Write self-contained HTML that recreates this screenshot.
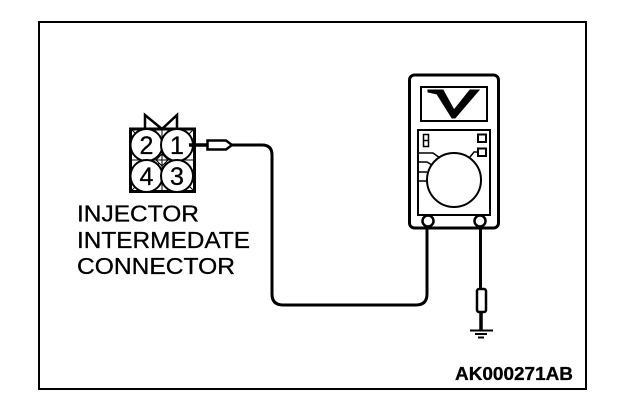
<!DOCTYPE html>
<html>
<head>
<meta charset="utf-8">
<style>
html,body{margin:0;padding:0;background:#fff;width:624px;height:404px;overflow:hidden}
svg{display:block}
text{font-family:"Liberation Sans",sans-serif;fill:#000}
</style>
</head>
<body>
<svg width="624" height="404" viewBox="0 0 624 404" xmlns="http://www.w3.org/2000/svg" fill="none" stroke="#000">
<rect x="39" y="22" width="547" height="367" stroke-width="2"/>
<!-- connector -->
<path d="M145 128V115L162 129L177 115V128" stroke-width="2.500"/>
<rect x="130.500" y="129" width="64" height="62.500" stroke-width="3" fill="#fff"/>
<path d="M162 129V191M131 160H194M131 129L194 191M194 129L131 191" stroke-width="1"/>
<g fill="#fff" stroke-width="2">
<circle cx="146.500" cy="145" r="16"/>
<circle cx="177" cy="145" r="16"/>
<circle cx="146.500" cy="176" r="16"/>
<circle cx="177" cy="176" r="16"/>
</g>
<path d="M156 160L162 154L168 160L162 166Z" fill="#fff" stroke-width="1"/>
<path d="M162 154V166M156 160H168" stroke-width="1"/>
<g stroke="#000" stroke-width="0.300">
<text x="146.500" y="154" font-size="25" text-anchor="middle">2</text>
<text x="177" y="154" font-size="25" text-anchor="middle">1</text>
<text x="146.500" y="185" font-size="25" text-anchor="middle">4</text>
<text x="177" y="185" font-size="25" text-anchor="middle">3</text>
</g>
<!-- probe and lead -->
<path d="M189 145H207" stroke-width="3.500"/>
<path d="M207.500 140.500H226L232 145L226 149.500H207.500Z" stroke-width="2.500" fill="#fff"/>
<path d="M232 145H262Q272 145 272 155V294Q272 305 283 305H416Q427 305 427 294V226" stroke-width="3"/>
<!-- meter -->
<rect x="409.500" y="75" width="89" height="153" rx="5" stroke-width="3" fill="#fff"/>
<rect x="421" y="87" width="66" height="34" stroke-width="2"/>
<path d="M428 90H443L454 110L470 90H479L455 118H452L437 94L428 92Z" fill="#000" stroke="#000" stroke-width="1"/>
<rect x="418" y="130" width="72" height="85" stroke-width="2"/>
<circle cx="454" cy="180" r="27" stroke-width="2"/>
<rect x="423.500" y="134.500" width="5" height="12" stroke-width="1.500"/>
<path d="M423 140.500H429" stroke-width="1.500"/>
<rect x="478" y="134.500" width="8" height="7.500" stroke-width="2"/>
<rect x="478" y="148.500" width="8" height="7.500" stroke-width="2"/>
<path d="M418 153H433L440 158M418 162H427L432 165M418 172H427M418 181H427M470 157L474 152H478" stroke-width="1.500"/>
<circle cx="428" cy="221" r="5.500" stroke-width="2.500" fill="#fff"/>
<circle cx="480" cy="221" r="5.500" stroke-width="2.500" fill="#fff"/>
<path d="M427 226V240" stroke-width="3"/>
<!-- ground lead -->
<path d="M480.500 226V289" stroke-width="3"/>
<rect x="477" y="289" width="9" height="23" rx="2" stroke-width="2.500" fill="#fff"/>
<path d="M481 312V330" stroke-width="3.500"/>
<path d="M470 330.500H493" stroke-width="2"/>
<path d="M475 334H487" stroke-width="2"/>
<path d="M478 337.500H484" stroke-width="2"/>
<!-- labels -->
<g stroke="#000" stroke-width="0.300">
<text x="77" y="221.500" font-size="23" textLength="122" lengthAdjust="spacingAndGlyphs">INJECTOR</text>
<text x="77" y="248" font-size="23" textLength="173" lengthAdjust="spacingAndGlyphs">INTERMEDATE</text>
<text x="77" y="274" font-size="23" textLength="158" lengthAdjust="spacingAndGlyphs">CONNECTOR</text>
<text x="455" y="380" font-size="18" font-weight="bold" textLength="118" lengthAdjust="spacingAndGlyphs">AK000271AB</text>
</g>
</svg>
</body>
</html>
